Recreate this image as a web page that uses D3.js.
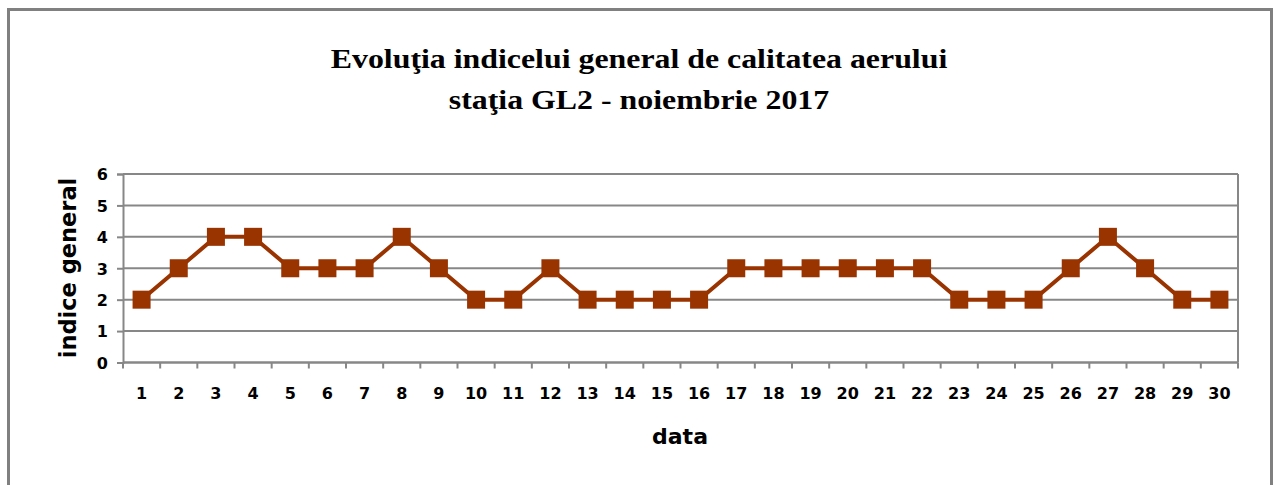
<!DOCTYPE html>
<html>
<head>
<meta charset="utf-8">
<script src="https://cdn.jsdelivr.net/npm/d3@7"></script>
<style>
  body { margin: 0; background: #fff; }
  svg { display: block; }
</style>
</head>
<body>
<div class="chart"></div>
<script>
// Chart data
const days = d3.range(1, 31).map(String)
const indexValues = [2, 3, 4, 4, 3, 3, 3, 4, 3, 2, 2, 3, 2, 2, 2, 2, 3, 3, 3, 3, 3, 3, 2, 2, 2, 3, 4, 3, 2, 2]
const yTicks = [0, 1, 2, 3, 4, 5, 6]
const titleLines = ["Evoluţia indicelui general de calitatea aerului", "staţia GL2 - noiembrie 2017"]

const W = 1276, H = 485
const margin = {top: 174, right: 38, bottom: 122.5, left: 123}
const width = W - margin.left - margin.right,
    height = H - margin.top - margin.bottom

const gridColor = "#878787"
const lineColor = "#993300"

const svg = d3.select(".chart").append("svg")
    .attr("width", W)
    .attr("height", H)

// outer frame of the chart object
svg.append("rect")
    .attr("x", 8.5)
    .attr("y", 9.5)
    .attr("width", 1263)
    .attr("height", 500)
    .attr("fill", "none")
    .attr("stroke", "#808080")
    .attr("stroke-width", 3)

// title (the original font is rendered wider, so stretch it horizontally)
svg.append("g")
    .attr("transform", "translate(639,0) scale(1.18,1)")
    .selectAll("text")
    .data(titleLines)
    .enter().append("text")
        .attr("x", 0)
        .attr("y", (d, i) => 68 + i * 41)
        .attr("text-anchor", "middle")
        .style("font-family", "'Liberation Serif', 'Times New Roman', serif")
        .style("font-weight", "bold")
        .style("font-size", "27px")
        .text(d => d)

const g = svg.append("g")
    .attr("transform", "translate(" + margin.left + "," + margin.top + ")")

const x = d3.scaleBand()
    .domain(days)
    .range([0, width])

const y = d3.scaleLinear()
    .domain([0, 6])
    .range([height, 0])

// horizontal gridlines
g.append("g")
    .selectAll("line")
    .data(yTicks)
    .enter().append("line")
        .attr("x1", 0)
        .attr("x2", width)
        .attr("y1", d => y(d))
        .attr("y2", d => y(d))
        .attr("stroke", gridColor)
        .attr("stroke-width", 2)

// right border of plot area
g.append("line")
    .attr("x1", width).attr("x2", width)
    .attr("y1", 0).attr("y2", height)
    .attr("stroke", gridColor)
    .attr("stroke-width", 2)

// y axis
const yAxis = g.append("g")
    .call(d3.axisLeft(y).tickValues(yTicks).tickSize(6).tickPadding(9).tickFormat(d3.format("d")))
yAxis.select(".domain").attr("stroke", gridColor).attr("stroke-width", 2)
yAxis.selectAll(".tick line").attr("stroke", gridColor).attr("stroke-width", 2)
yAxis.selectAll("text")
    .attr("dy", "0.36em")
    .style("font-family", "'DejaVu Sans', sans-serif")
    .style("font-weight", "bold")
    .style("font-size", "16px")
    .attr("fill", "#000")

// x axis: ticks between categories, labels centred in bands
const xAxis = g.append("g")
    .attr("transform", "translate(0," + height + ")")
xAxis.append("line")
    .attr("x1", 0).attr("x2", width)
    .attr("stroke", gridColor).attr("stroke-width", 2)
xAxis.selectAll(".sep")
    .data(days.concat(["end"]))
    .enter().append("line")
        .attr("class", "sep")
        .attr("x1", (d, i) => i * x.step())
        .attr("x2", (d, i) => i * x.step())
        .attr("y1", 0)
        .attr("y2", 6)
        .attr("stroke", gridColor)
        .attr("stroke-width", 2)
xAxis.selectAll(".lbl")
    .data(days)
    .enter().append("text")
        .attr("class", "lbl")
        .attr("x", d => x(d) + x.bandwidth() / 2)
        .attr("y", 36.5)
        .attr("text-anchor", "middle")
        .style("font-family", "'DejaVu Sans', sans-serif")
        .style("font-weight", "bold")
        .style("font-size", "16px")
        .text(d => d)

// axis titles
svg.append("text")
    .attr("x", 680)
    .attr("y", 444)
    .attr("text-anchor", "middle")
    .style("font-family", "'DejaVu Sans', sans-serif")
    .style("font-weight", "bold")
    .style("font-size", "22px")
    .text("data")

svg.append("text")
    .attr("transform", "translate(76,268) rotate(-90)")
    .attr("text-anchor", "middle")
    .style("font-family", "'DejaVu Sans', sans-serif")
    .style("font-weight", "bold")
    .style("font-size", "22.5px")
    .text("indice general")

// series line
const line = d3.line()
    .x((d, i) => x(days[i]) + x.bandwidth() / 2)
    .y(d => y(d))

g.append("path")
    .datum(indexValues)
    .attr("fill", "none")
    .attr("stroke", lineColor)
    .attr("stroke-width", 4)
    .attr("d", line)

// square markers
g.selectAll(".marker")
    .data(indexValues)
    .enter().append("rect")
        .attr("class", "marker")
        .attr("x", (d, i) => x(days[i]) + x.bandwidth() / 2 - 9)
        .attr("y", d => y(d) - 9)
        .attr("width", 18)
        .attr("height", 18)
        .attr("fill", lineColor)
</script>
</body>
</html>
